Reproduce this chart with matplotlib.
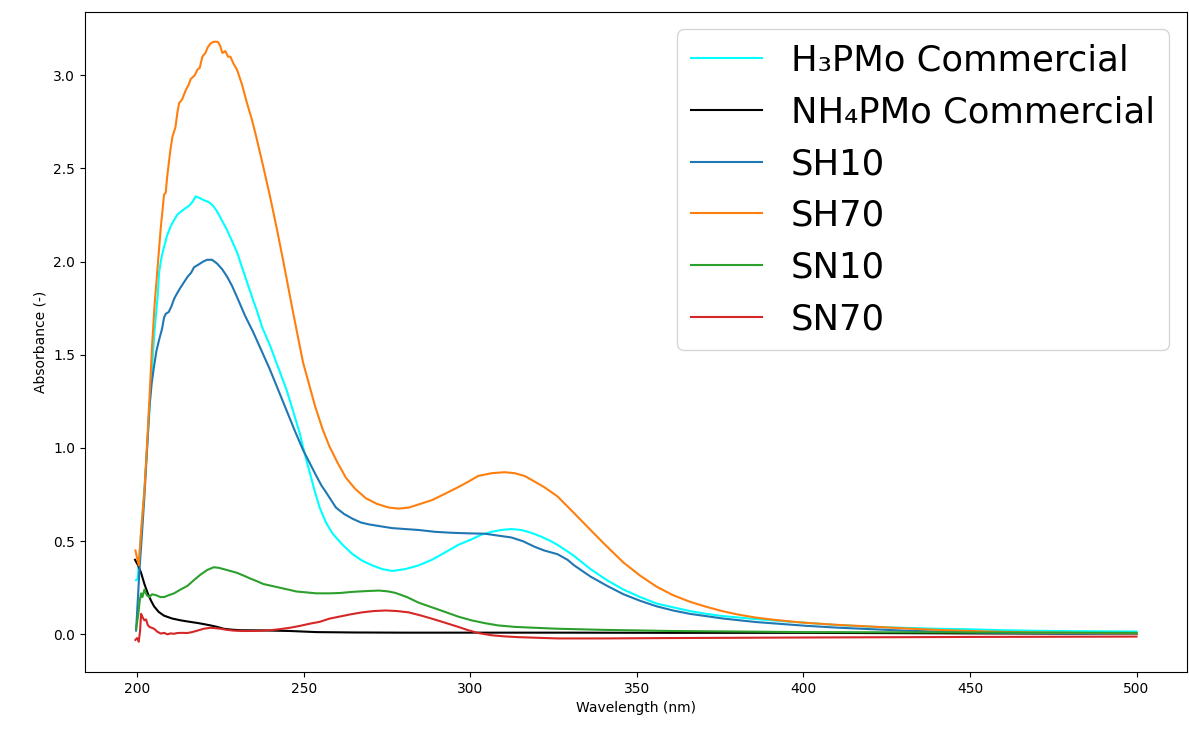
import matplotlib
matplotlib.use("Agg")
import matplotlib.pyplot as plt

# ---------------- data ----------------
h3_wl = [199.7, 200.2, 200.8, 201.5, 202.2, 203.2, 204.2, 205.2, 206.2, 206.6, 207.3, 208.1, 209.0,
         210.1, 211.0, 212.0, 212.6, 214.0, 215.6, 216.6, 217.6, 218.3, 219.0, 220.0, 221.5, 222.8,
         224.0, 225.5, 227.0, 228.5, 230.0, 231.5, 233.0, 234.9, 235.9, 237.5, 239.9, 242.4, 244.9,
         246.8, 248.8, 250.3, 251.8, 253.3, 254.8, 256.7, 258.7, 261.7, 264.7, 267.6, 270.6, 273.6,
         276.6, 280.5, 284.5, 288.5, 292.5, 296.4, 300.4, 303.4, 306.4, 309.3, 312.3, 315.3, 318.3,
         321.2, 324.2, 326.2, 329.2, 331.2, 336.1, 341.1, 346.0, 351.0, 356.0, 360.9, 365.9, 370.8,
         375.8, 385.7, 395.6, 400.6, 410, 420, 430, 440, 450, 460, 470, 480, 490, 500]
h3_abs = [0.29, 0.30, 0.45, 0.62, 0.78, 1.05, 1.35, 1.62, 1.82, 1.94, 2.02, 2.08, 2.14,
          2.19, 2.22, 2.25, 2.26, 2.28, 2.30, 2.32, 2.35, 2.345, 2.34, 2.33, 2.32, 2.30,
          2.27, 2.22, 2.17, 2.11, 2.05, 1.97, 1.89, 1.79, 1.74, 1.65, 1.55, 1.43, 1.31,
          1.20, 1.08, 0.97, 0.87, 0.77, 0.68, 0.60, 0.54, 0.48, 0.43, 0.395, 0.37, 0.35,
          0.34, 0.35, 0.37, 0.40, 0.44, 0.48, 0.51, 0.535, 0.55, 0.56, 0.565, 0.56, 0.545,
          0.525, 0.50, 0.48, 0.445, 0.42, 0.35, 0.29, 0.24, 0.20, 0.165, 0.145, 0.125, 0.11,
          0.098, 0.082, 0.068, 0.062, 0.05, 0.041, 0.035, 0.03, 0.027, 0.022, 0.019, 0.017, 0.016, 0.015]

nh4_wl = [199.4, 200.3, 201.2, 202.2, 203.2, 204.2, 205.1, 206.5, 208.1, 210.5, 213.1, 215.5, 218.1,
          220.0, 222.0, 224.0, 226.0, 228.5, 231.0, 237.9, 245.8, 253.8, 265, 280, 300, 330, 360,
          400, 450, 500]
nh4_abs = [0.40, 0.37, 0.33, 0.27, 0.22, 0.18, 0.15, 0.12, 0.10, 0.085, 0.075, 0.068, 0.061,
           0.055, 0.048, 0.04, 0.03, 0.025, 0.022, 0.021, 0.018, 0.012, 0.01, 0.009, 0.009, 0.009,
           0.008, 0.008, 0.005, 0.003]

sh10_wl = [199.7, 200.7, 201.5, 202.2, 203.0, 203.7, 204.4, 205.1, 205.8, 206.6, 207.5, 208.1, 208.6,
           209.5, 210.3, 211.1, 212.0, 213.0, 214.1, 215.2, 216.2, 217.1, 218.5, 219.8, 221.0, 222.5,
           224.0, 225.5, 227.0, 228.5, 230.0, 232.4, 234.9, 237.4, 239.9, 242.4, 244.9, 247.4, 249.8,
           251.8, 253.8, 255.3, 256.8, 259.7, 262.2, 264.7, 267.2, 269.6, 273.0, 276.6, 280.5, 284.5,
           289.5, 294.4, 299.4, 304.4, 308.3, 312.3, 315.8, 319.3, 322.2, 326.2, 329.2, 331.2, 336.1,
           341.1, 346.0, 351.0, 356.0, 360.9, 365.9, 375.8, 385.7, 400.6, 410, 420, 430, 440, 450,
           460, 470, 480, 490, 500]
sh10_abs = [0.02, 0.34, 0.55, 0.74, 1.00, 1.22, 1.35, 1.44, 1.52, 1.58, 1.64, 1.70, 1.72,
            1.73, 1.76, 1.80, 1.83, 1.86, 1.89, 1.92, 1.94, 1.97, 1.985, 2.00, 2.01, 2.01,
            1.99, 1.96, 1.92, 1.87, 1.81, 1.71, 1.62, 1.52, 1.42, 1.31, 1.20, 1.09, 0.99,
            0.92, 0.85, 0.80, 0.76, 0.68, 0.645, 0.62, 0.60, 0.59, 0.58, 0.57, 0.565, 0.56,
            0.55, 0.545, 0.542, 0.54, 0.53, 0.52, 0.50, 0.47, 0.45, 0.43, 0.40, 0.37, 0.31,
            0.26, 0.215, 0.18, 0.15, 0.128, 0.11, 0.085, 0.066, 0.046, 0.036, 0.028, 0.02, 0.015, 0.011,
            0.008, 0.006, 0.004, 0.003, 0.003]

sh70_wl = [199.5, 200.5, 201.2, 202.2, 203.0, 203.7, 204.5, 205.3, 206.2, 207.1, 208.1, 208.6, 209.0,
           210.0, 210.6, 211.5, 212.1, 212.6, 213.5, 214.6, 215.5, 216.1, 217.3, 218.1, 218.8, 219.6,
           220.5, 221.2, 222.0, 223.0, 224.2, 224.9, 225.6, 226.5, 227.3, 228.0, 229.0, 230.0, 231.5,
           233.0, 234.5, 235.9, 238.0, 239.9, 241.9, 243.8, 245.3, 246.8, 249.8, 251.8, 253.5, 255.7,
           257.7, 260.2, 262.7, 265.5, 268.7, 272.0, 275.6, 278.5, 281.5, 285.0, 288.5, 292.5, 296.4,
           299.5, 302.4, 306.5, 310.3, 313.3, 316.3, 319.3, 322.2, 326.2, 331.2, 336.1, 341.1, 346.0,
           351.0, 356.0, 360.9, 365.9, 370.8, 375.8, 380.7, 385.7, 390.7, 395.6, 400.6, 410, 420, 430,
           440, 450, 460, 470, 480, 490, 500]
sh70_abs = [0.45, 0.37, 0.55, 0.77, 1.02, 1.26, 1.55, 1.78, 1.98, 2.18, 2.36, 2.37, 2.45,
            2.60, 2.67, 2.72, 2.80, 2.85, 2.87, 2.92, 2.95, 2.98, 3.00, 3.03, 3.04, 3.10,
            3.12, 3.15, 3.17, 3.18, 3.18, 3.16, 3.12, 3.13, 3.10, 3.10, 3.06, 3.03, 2.95,
            2.85, 2.76, 2.66, 2.50, 2.35, 2.18, 2.01, 1.87, 1.73, 1.46, 1.33, 1.22, 1.10,
            1.01, 0.92, 0.84, 0.78, 0.73, 0.70, 0.68, 0.675, 0.68, 0.70, 0.72, 0.755, 0.79,
            0.82, 0.85, 0.865, 0.87, 0.865, 0.85, 0.82, 0.79, 0.74, 0.65, 0.56, 0.47, 0.385,
            0.315, 0.255, 0.21, 0.175, 0.148, 0.124, 0.105, 0.09, 0.079, 0.07, 0.062, 0.051, 0.042, 0.032,
            0.024, 0.018, 0.013, 0.01, 0.008, 0.006, 0.005]

sn10_wl = [199.7, 200.3, 200.8, 201.2, 201.6, 202.2, 202.9, 203.7, 204.5, 205.7, 207.0, 208.1, 209.5,
           211.1, 213.0, 215.1, 217.0, 219.0, 221.0, 223.0, 224.5, 226.0, 228.0, 230.0, 232.0, 233.9,
           236.0, 237.9, 240.4, 242.9, 245.4, 247.8, 250.8, 253.8, 257.7, 261.0, 264.7, 268.7, 272.6,
           275.5, 277.6, 281.0, 284.5, 288.5, 292.5, 296.4, 300.4, 304.4, 308.3, 313.3, 318.3, 326.2,
           340, 360, 400.6, 450, 500]
sn10_abs = [0.03, 0.10, 0.18, 0.22, 0.20, 0.24, 0.21, 0.20, 0.215, 0.21, 0.20, 0.20, 0.21,
            0.22, 0.24, 0.26, 0.29, 0.32, 0.345, 0.36, 0.357, 0.35, 0.34, 0.33, 0.315, 0.30,
            0.285, 0.27, 0.26, 0.25, 0.24, 0.23, 0.225, 0.22, 0.22, 0.222, 0.228, 0.232, 0.235,
            0.23, 0.222, 0.20, 0.17, 0.145, 0.12, 0.095, 0.075, 0.06, 0.048, 0.04, 0.036, 0.03,
            0.024, 0.018, 0.012, 0.01, 0.008]

sn70_wl = [199.5, 200.0, 200.5, 200.9, 201.2, 201.7, 202.2, 202.7, 203.2, 203.7, 204.4, 205.1, 206.0,
           207.1, 208.1, 209.1, 210.0, 211.0, 212.1, 213.5, 215.1, 216.5, 218.1, 220.0, 222.0, 223.5,
           225.0, 227.0, 229.0, 231.5, 233.9, 237.0, 239.9, 243.0, 245.8, 248.8, 251.8, 254.8, 257.7,
           260.7, 264.0, 267.6, 271.0, 274.6, 278.0, 281.5, 285.0, 288.5, 292.5, 296.4, 299.4, 302.4,
           306.4, 310.3, 314.3, 319.3, 326.2, 340, 360, 400, 450, 500]
sn70_abs = [-0.03, -0.02, -0.04, 0.02, 0.11, 0.09, 0.075, 0.08, 0.05, 0.04, 0.035, 0.03, 0.015,
            0.004, 0.008, 0.0, 0.005, 0.003, 0.007, 0.008, 0.007, 0.012, 0.02, 0.03, 0.035, 0.033,
            0.03, 0.024, 0.02, 0.018, 0.018, 0.019, 0.022, 0.028, 0.035, 0.045, 0.057, 0.067, 0.084,
            0.095, 0.107, 0.118, 0.125, 0.128, 0.125, 0.118, 0.102, 0.084, 0.062, 0.04, 0.022, 0.007,
            -0.005, -0.011, -0.015, -0.018, -0.022, -0.022, -0.02, -0.017, -0.014, -0.012]

labels = ["H\u2083PMo Commercial", "NH\u2084PMo Commercial", "SH10", "SH70", "SN10", "SN70"]
colors = ["cyan", "black", "tab:blue", "tab:orange", "tab:green", "tab:red"]

# ---------------- plot ----------------
fig, ax = plt.subplots(figsize=(11.89, 7.35), dpi=100)
fig.subplots_adjust(left=0.0715, right=0.998, bottom=0.086, top=0.984)

series = [(h3_wl, h3_abs), (nh4_wl, nh4_abs), (sh10_wl, sh10_abs),
          (sh70_wl, sh70_abs), (sn10_wl, sn10_abs), (sn70_wl, sn70_abs)]
for (wl, ab), lab, col in zip(series, labels, colors):
    ax.plot(wl, ab, color=col, label=lab, linewidth=1.5)

ax.set_xlabel("Wavelength (nm)")
ax.set_ylabel("Absorbance (-)")
ax.legend(loc="upper right", fontsize=25.5)

fig.savefig("out.png", dpi=100)
